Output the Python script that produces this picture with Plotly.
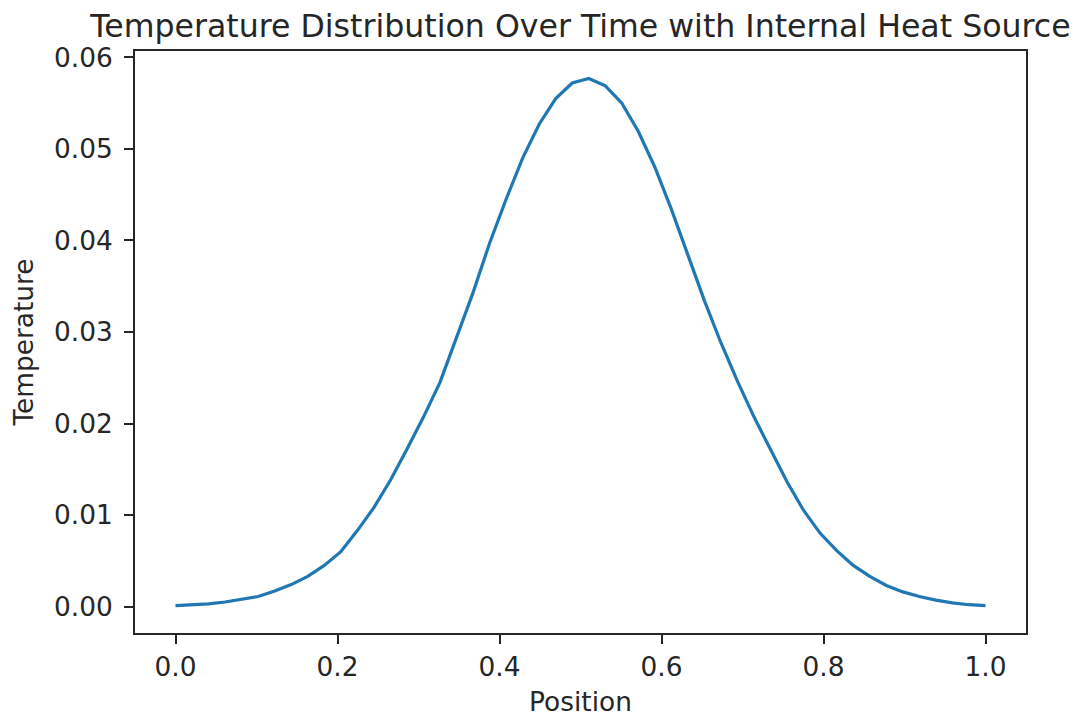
import numpy as np
import plotly.graph_objects as go

# Data
position = np.linspace(0, 1, 50)
temperature = [
    0.0001, 0.0002, 0.0003, 0.0005, 0.0008, 0.0011, 0.0017, 0.0024, 0.0033, 0.0045,
    0.0060, 0.0083, 0.0108, 0.0138, 0.0172, 0.0207, 0.0245, 0.0293, 0.0343, 0.0397,
    0.0445, 0.0490, 0.0527, 0.0555, 0.0572, 0.0577, 0.0569, 0.0550, 0.0519, 0.0480,
    0.0434, 0.0384, 0.0334, 0.0288, 0.0246, 0.0207, 0.0172, 0.0136, 0.0105, 0.0080,
    0.0061, 0.0045, 0.0033, 0.0023, 0.0016, 0.0011, 0.0007, 0.0004, 0.0002, 0.0001,
]
x_ticks = [0.0, 0.2, 0.4, 0.6, 0.8, 1.0]
y_ticks = [0.00, 0.01, 0.02, 0.03, 0.04, 0.05, 0.06]

title_text = "Temperature Distribution Over Time with Internal Heat Source"

fig = go.Figure()
fig.add_trace(go.Scatter(
    x=position, y=temperature, mode="lines",
    line=dict(color="#1f77b4", width=3.2),
    showlegend=False,
))

font_family = "DejaVu Sans"
text_color = "#262626"
# the page body adds an 8px offset, so margins compensate for it
fig.update_layout(
    width=1086, height=719,
    margin=dict(l=127, r=68, t=43, b=94, autoexpand=False),
    paper_bgcolor="white", plot_bgcolor="white",
    font=dict(family=font_family, size=26.4, color=text_color),
    title=dict(
        text=title_text, x=0.5, xref="paper", xanchor="center",
        y=1, yref="paper", yanchor="bottom", pad=dict(b=14),
        font=dict(family=font_family, size=31.6, color=text_color),
    ),
)
axis_common = dict(
    showgrid=False, zeroline=False, showline=True, mirror=True,
    linecolor=text_color, linewidth=1.8,
    ticks="outside", ticklen=9, tickwidth=1.6, tickcolor=text_color,
    tickfont=dict(family=font_family, size=26.4, color=text_color),
    automargin=False,
)
fig.update_xaxes(
    range=[-0.05, 1.05], tickvals=x_ticks, tickformat=".1f",
    title=dict(text="Position", standoff=12, font=dict(family=font_family, size=26.4, color=text_color)),
    **axis_common,
)
fig.update_yaxes(
    range=[-0.00289, 0.0607], tickvals=y_ticks, tickformat=".2f",
    ticklabelstandoff=6,
    title=dict(text="Temperature", standoff=14, font=dict(family=font_family, size=26.4, color=text_color)),
    **axis_common,
)

fig.write_html("out.html")
